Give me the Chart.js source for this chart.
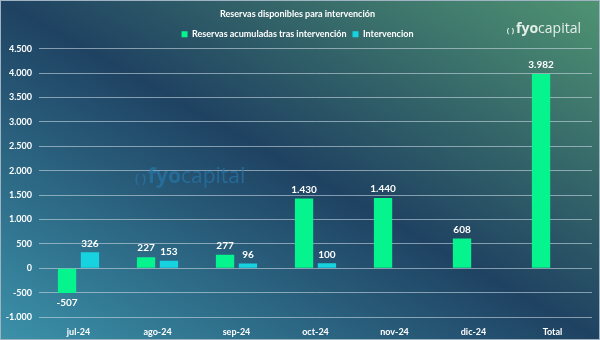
<!DOCTYPE html>
<html>
<head>
<meta charset="utf-8">
<script src="https://cdn.jsdelivr.net/npm/chart.js@4.4.1/dist/chart.umd.min.js"></script>
<style>
  body { margin: 0; }
  #wrap {
    position: relative; width: 600px; height: 340px; box-sizing: border-box;
    border: 1px solid #9fb3c3;
    background: linear-gradient(to top right, #3b91a9 0%, #1f4262 50%, #4f9372 100%);
  }
  #chartOne { position: absolute; left: 0; top: 0; }
  .logo { position: absolute; font-family: 'Open Sans', sans-serif; white-space: nowrap; }
  .logo b { font-weight: 700; }
  .logo span.p { font-size: 0.55em; font-weight: 700; margin-right: 2px; }
  #logoTop { right: 18px; top: 17px; font-size: 14px; color: #e3efe9; }
  #logoMid { left: 134px; top: 160px; font-size: 21px; color: rgba(38,118,170,0.7); }
</style>
</head>
<body>
<div id="wrap">
  <canvas id="chartOne" width="598" height="338"></canvas>
  <div class="logo" id="logoTop"><span class="p">( )</span><b>fyo</b>capital</div>
  <div class="logo" id="logoMid"><span class="p">( )</span><b>fyo</b>capital</div>
</div>
<script>
const labels = ['jul-24', 'ago-24', 'sep-24', 'oct-24', 'nov-24', 'dic-24', 'Total'];
const reservas = [-507, 227, 277, 1430, 1440, 608, 3982];
const intervencion = [326, 153, 96, 100, null, null, null];

const fmt = v => {
    const s = Math.abs(v).toString().replace(/\B(?=(\d{3})+(?!\d))/g, '.');
    return (v < 0 ? '-' : '') + s;
};

const fontFam = "Lato, 'Noto Sans', sans-serif";

const valueLabels = {
    id: 'valueLabels',
    afterDatasetsDraw(chart) {
        const ctx = chart.ctx;
        ctx.save();
        ctx.fillStyle = '#ffffff';
        ctx.font = 'bold 10px ' + fontFam;
        ctx.textAlign = 'center';
        chart.data.datasets.forEach((ds, i) => {
            chart.getDatasetMeta(i).data.forEach((bar, j) => {
                const v = ds.data[j];
                if (v === null) return;
                if (v >= 0) {
                    ctx.textBaseline = 'bottom';
                    ctx.fillText(fmt(v), bar.x, bar.y - 4);
                } else {
                    ctx.textBaseline = 'top';
                    ctx.fillText(fmt(v), bar.x, bar.y + 5);
                }
            });
        });
        ctx.restore();
    }
};

const data = {
    labels: labels,
    datasets: [{
        label: 'Reservas acumuladas tras intervención',
        backgroundColor: '#05f48e',
        data: reservas,
    }, {
        label: 'Intervencion',
        backgroundColor: '#17d3df',
        data: intervencion,
    }]
};

const config = {
    type: 'bar',
    data: data,
    plugins: [valueLabels],
    options: {
        responsive: false,
        animation: false,
        layout: { padding: { left: 2, right: 7, bottom: 2 } },
        datasets: { bar: { categoryPercentage: 0.58, barPercentage: 0.8 } },
        plugins: {
            title: {
                display: true,
                text: 'Reservas disponibles para intervención',
                color: '#ffffff',
                font: { family: fontFam, size: 9, weight: 'bold' },
                padding: { top: 8, bottom: 4 }
            },
            legend: {
                labels: {
                    color: '#ffffff',
                    boxWidth: 6, boxHeight: 6,
                    font: { family: fontFam, size: 9, weight: 'bold' },
                    padding: 6
                }
            },
            tooltip: { enabled: false }
        },
        scales: {
            x: {
                afterFit: axis => { axis.height = 20; },
                grid: { display: false },
                border: { display: false },
                ticks: { padding: 2, color: '#ffffff', font: { family: fontFam, size: 9, weight: 'bold' } }
            },
            y: {
                min: -1000, max: 4500,
                afterFit: axis => { axis.width = 36; },
                grid: { color: 'rgba(200,215,225,0.6)', drawTicks: false },
                border: { display: false },
                ticks: {
                    stepSize: 500, padding: 7,
                    color: '#ffffff',
                    font: { family: fontFam, size: 9, weight: 'bold' },
                    callback: v => fmt(v)
                }
            }
        }
    }
};

new Chart(document.getElementById('chartOne'), config);
</script>
</body>
</html>
